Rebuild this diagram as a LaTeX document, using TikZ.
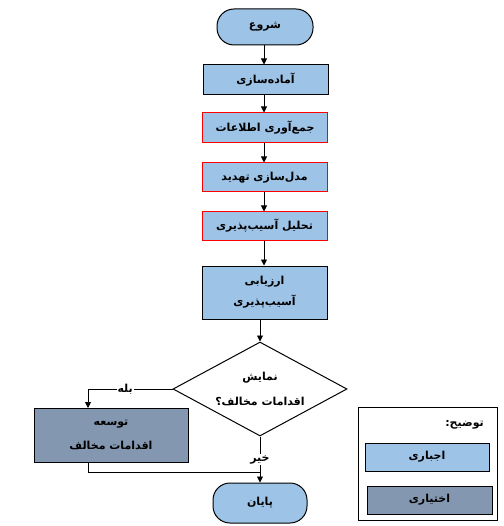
\documentclass[tikz,border=0pt]{standalone}
\usepackage{fontspec}
\newfontfamily\arabicfont[Script=Arabic]{DejaVu Sans}
\TeXXeTstate=1
\usetikzlibrary{shapes.geometric,arrows.meta}
\definecolor{lblue}{HTML}{9DC3E6}
\definecolor{dblue}{HTML}{8497B0}
\tikzset{
  txt/.style={font=\arabicfont\fontsize{11}{13}\selectfont\bfseries},
  base/.style={txt, draw=black, line width=1pt, inner sep=1pt, align=center},
  box/.style={base, fill=lblue, minimum width=125pt, minimum height=30pt},
  redbox/.style={box, draw=red},
  term/.style={box, rounded corners=17pt},
  optbox/.style={base, fill=dblue, minimum width=154pt, minimum height=54pt},
  decision/.style={base, fill=white, diamond, minimum width=174pt, minimum height=94pt, inner sep=0pt},
  arr/.style={-{Triangle[length=6pt,width=6pt]}, line width=0.9pt},
  conn/.style={line width=0.9pt},
  lab/.style={txt, fill=white, inner sep=1pt},
  frame/.style={draw=black, line width=0.9pt}
}
\begin{document}
\begin{tikzpicture}[x=1pt,y=-1pt]
\fill[white] (0,0) rectangle (503,526);
\useasboundingbox (0,0) rectangle (503,526);

\node[term, minimum width=96pt, minimum height=36pt] (start) at (265,27) {\beginR شروع\endR};
\node[box] (b1) at (265.5,80) {\beginR آماده^^^^200cسازی\endR};
\node[redbox] (b2) at (265,128) {\beginR جمع^^^^200cآوری اطلاعات\endR};
\node[redbox, minimum height=29pt] (b3) at (264.5,177.5) {\beginR مدل^^^^200cسازی تهدید\endR};
\node[redbox, minimum height=28pt] (b4) at (264.5,226) {\beginR تحلیل آسیب^^^^200cپذیری\endR};
\node[box, minimum height=53pt] (b5) at (264.5,292.5) {\beginR ارزیابی\endR\\[7pt]\beginR آسیب^^^^200cپذیری\endR};
\node[decision] (dia) at (260,389) {};
\node[txt, align=center, inner sep=0pt] (diatext) at (dia.center) {\beginR نمایش\endR\\[12pt]\beginR اقدامات مخالف؟\endR};
\node[optbox] (opt) at (111,435) {\beginR توسعه\endR\\[11pt]\beginR اقدامات مخالف\endR};
\node[term, minimum width=94pt, minimum height=40pt] (end) at (260,503) {\beginR پایان\endR};

% legend
\node[frame, minimum width=139pt, minimum height=113pt] (legend) at (427.5,463.5) {};
\node[txt, anchor=east, inner sep=1pt] (legt) at (485,425) {\beginR توضیح:\endR};
\node[box, minimum width=124pt, minimum height=28pt] (leg1) at (427,457) {\beginR اجباری\endR};
\node[optbox, minimum width=125pt, minimum height=28pt] (leg2) at (429.5,500) {\beginR اختیاری\endR};

% connectors
\coordinate (yx) at (88,408);
\coordinate (jn) at (260,472);
\draw[arr] (start.south -| 264,0) -- (b1.north -| 264,0);
\draw[arr] (b1.south -| 264,0) -- (b2.north -| 264,0);
\draw[arr] (b2.south -| 264,0) -- (b3.north -| 264,0);
\draw[arr] (b3.south -| 264,0) -- (b4.north -| 264,0);
\draw[arr] (b4.south -| 264,0) -- (b5.north -| 264,0);
\draw[arr] (b5.south -| dia.north) -- (dia.north);
\draw[arr] (dia.west) -- node[lab, pos=0.56] {\beginR بله\endR} (dia.west -| yx) -- (yx);
\draw[arr] (dia.south) -- node[lab, pos=0.5] {\beginR خیر\endR} (end.north);
\draw[conn] (opt.south -| yx) |- (jn);
\end{tikzpicture}
\end{document}
